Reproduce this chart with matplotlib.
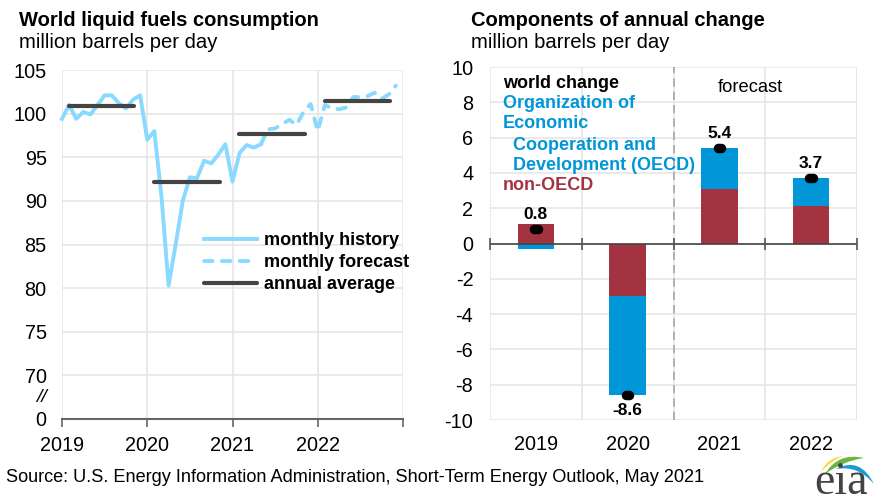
import numpy as np
import matplotlib
matplotlib.use("Agg")
import matplotlib.pyplot as plt
from matplotlib.patches import PathPatch
from matplotlib.path import Path

plt.rcParams['font.family'] = ['Liberation Sans', 'DejaVu Sans']
plt.rcParams['axes.unicode_minus'] = False

W, H = 878, 504

# ─── Data ─────────────────────────────────────────────────────────────────────

history = [99.4, 101.0, 99.4, 100.2, 99.9, 101.0, 102.1, 102.1, 101.2, 100.6, 101.6, 102.1,
           97.0, 98.0, 90.5, 80.3, 85.0, 90.0, 92.7, 92.6, 94.6, 94.3, 95.3, 96.5,
           92.2, 95.5, 96.4, 96.1, 96.5]
forecast = [96.5, 98.2, 98.3, 98.8, 99.3, 98.7, 100.2, 101.1,
            98.0, 101.0, 100.6, 100.5, 100.7, 101.9, 101.9, 102.0, 102.4, 101.7, 102.2, 103.2]
annual_years = [2019, 2020, 2021, 2022]
annual_avg = [100.9, 92.2, 97.7, 101.4]
left_yticks = [65, 70, 75, 80, 85, 90, 95, 100, 105]
left_ylabels = ['0', '70', '75', '80', '85', '90', '95', '100', '105']

years = ['2019', '2020', '2021', '2022']
non_oecd = [1.1, -3.0, 3.1, 2.1]
oecd = [-0.3, -5.6, 2.3, 1.6]
world = [0.8, -8.6, 5.4, 3.7]
world_labels = ['0.8', '-8.6', '5.4', '3.7']

LINE = '#8ad9ff'
DARK = '#444444'
BLUE = '#0096d7'
RED = '#a33340'
GRID = '#e6e6e6'

# ─── Helpers ──────────────────────────────────────────────────────────────────

def px_axes(fig, x0, y0, x1, y1):
    # pixel box, y measured from the top of the image
    return fig.add_axes([x0 / W, 1 - y1 / H, (x1 - x0) / W, (y1 - y0) / H])

def label(fig, x, y, s, **kw):
    kw.setdefault('va', 'center')
    fig.text(x / W, 1 - y / H, s, **kw)

def swoosh(ax, a, c1, b, c2, color):
    # filled crescent between two quadratic curves a -> b
    verts = [a, c1, b, c2, a, a]
    codes = [Path.MOVETO, Path.CURVE3, Path.CURVE3, Path.CURVE3, Path.CURVE3, Path.CLOSEPOLY]
    ax.add_patch(PathPatch(Path(verts, codes), fc=color, ec='none'))

fig = plt.figure(figsize=(W / 100, H / 100), dpi=100)

# ─── Left panel ───────────────────────────────────────────────────────────────

ax = px_axes(fig, 62, 70, 403, 419)
ax.set_xlim(2019, 2023)
ax.set_ylim(65, 105)
ax.set_axisbelow(True)
ax.grid(True, color=GRID, lw=1.2)
months_h = 2019 + np.arange(len(history)) / 12
months_f = 2019 + (len(history) - 1 + np.arange(len(forecast))) / 12
ax.plot(months_h, history, color=LINE, lw=2.8, solid_joinstyle='round', label='monthly history', clip_on=False)
ax.plot(months_f, forecast, color=LINE, lw=2.8, ls=(0, (2.2, 2.4)), dash_capstyle='round',
        label='monthly forecast', clip_on=False)
for i, (yr, v) in enumerate(zip(annual_years, annual_avg)):
    ax.plot([yr + 0.08, yr + 0.85], [v, v], color=DARK, lw=3, solid_capstyle='round',
            label='annual average' if i == 0 else None)
ax.set_xticks(annual_years + [2023])
ax.set_xticklabels(years + [''], fontsize=14.3)
ax.set_yticks(left_yticks)
ax.set_yticklabels(left_ylabels, fontsize=14.3)
ax.tick_params(axis='y', length=0, pad=11)
ax.tick_params(axis='x', length=6, width=1.2, color='#666666', pad=6)
for s in ['top', 'right', 'left']:
    ax.spines[s].set_visible(False)
ax.spines['bottom'].set_color('#666666')
ax.spines['bottom'].set_linewidth(1.5)
ax.legend(loc='upper left', bbox_to_anchor=(0.417, 0.536), frameon=False,
          prop={'weight': 'bold', 'size': 13}, labelspacing=0.28, handlelength=2.9,
          handletextpad=0.4, borderpad=0, borderaxespad=0)
label(fig, 41, 397, '//', fontsize=14, ha='center', style='italic')

label(fig, 19, 20, 'World liquid fuels consumption', fontsize=14.5, fontweight='bold')
label(fig, 19, 42, 'million barrels per day', fontsize=14.6)

# ─── Right panel ──────────────────────────────────────────────────────────────

ax2 = px_axes(fig, 490, 67, 857, 420)
ax2.set_xlim(0, 4)
ax2.set_ylim(-10, 10)
ax2.set_axisbelow(True)
ax2.grid(True, color=GRID, lw=1.2)
ax2.set_xticks([1, 2, 3, 4], minor=False)
ax2.set_xticklabels([])
ax2.set_xticks([0.5, 1.5, 2.5, 3.5], minor=True)
ax2.set_xticklabels(years, minor=True, fontsize=14.3)
ax2.set_yticks(np.arange(-10, 11, 2))
ax2.tick_params(axis='both', which='major', length=0, labelsize=14.3)
ax2.tick_params(axis='y', pad=12)
ax2.tick_params(axis='x', which='minor', length=0, pad=11)
for s in ax2.spines.values():
    s.set_visible(False)
ax2.axvline(0, color=GRID, lw=1.2)
ax2.axvline(4, color=GRID, lw=1.2)

xpos = np.arange(4) + 0.5
for x, n, o in zip(xpos, non_oecd, oecd):
    ax2.bar(x, n, width=0.4, color=RED, zorder=2)
    # OECD stacks on non-OECD only if both have the same sign
    bottom = n if n * o > 0 else 0
    ax2.bar(x, o, width=0.4, bottom=bottom, color=BLUE, zorder=2)

ax2.axvline(2, color='#a6a6a6', lw=1.2, ls=(0, (5, 3)), zorder=1.5)
ax2.axhline(0, color='#444444', lw=1.2, zorder=3)
ax2.plot([0, 1, 2, 3, 4], [0] * 5, ls='none', marker='|', ms=8.6, mew=1.2,
         color='#555555', zorder=3, clip_on=False)
for dx in (-0.018, 0, 0.018):
    ax2.plot(xpos + dx, world, ls='none', marker='o', ms=5.8, color='black', zorder=4)
for x, v, s in zip(xpos, world, world_labels):
    off = -0.85 if v < 0 else 0.85
    ax2.text(x, v + off, s, ha='center', va='center', fontsize=12.5, fontweight='bold',
             zorder=5)

label(fig, 471, 20, 'Components of annual change', fontsize=14.5, fontweight='bold')
label(fig, 471, 42, 'million barrels per day', fontsize=14.6)

label(fig, 503, 83, 'world change', fontsize=13, fontweight='bold')
label(fig, 503, 104, 'Organization of', fontsize=13, fontweight='bold', color=BLUE)
label(fig, 503, 124, 'Economic', fontsize=13, fontweight='bold', color=BLUE)
label(fig, 513, 145, 'Cooperation and', fontsize=13, fontweight='bold', color=BLUE)
label(fig, 513, 166, 'Development (OECD)', fontsize=13, fontweight='bold', color=BLUE)
label(fig, 503, 186, 'non-OECD', fontsize=13, fontweight='bold', color=RED)
label(fig, 718, 87, 'forecast', fontsize=13.2)

# ─── Footer and logo ──────────────────────────────────────────────────────────

label(fig, 6, 477, 'Source: U.S. Energy Information Administration, Short-Term Energy Outlook, May 2021',
      fontsize=13.1)

logo = px_axes(fig, 810, 450, 878, 504)
logo.set_xlim(810, 878)
logo.set_ylim(504, 450)
logo.axis('off')
logo.text(841, 494, 'eia', family='Liberation Serif', fontsize=33, color='#444444',
          ha='center', va='baseline')
swoosh(logo, (825, 474), (838, 452), (864, 458), (843, 461), '#6db543')
swoosh(logo, (821, 472), (827, 458), (843, 456), (830, 461), '#f5d327')
swoosh(logo, (836, 469), (860, 456), (874, 484), (858, 465), '#1a9bd7')

fig.savefig('out.png', dpi=100)
